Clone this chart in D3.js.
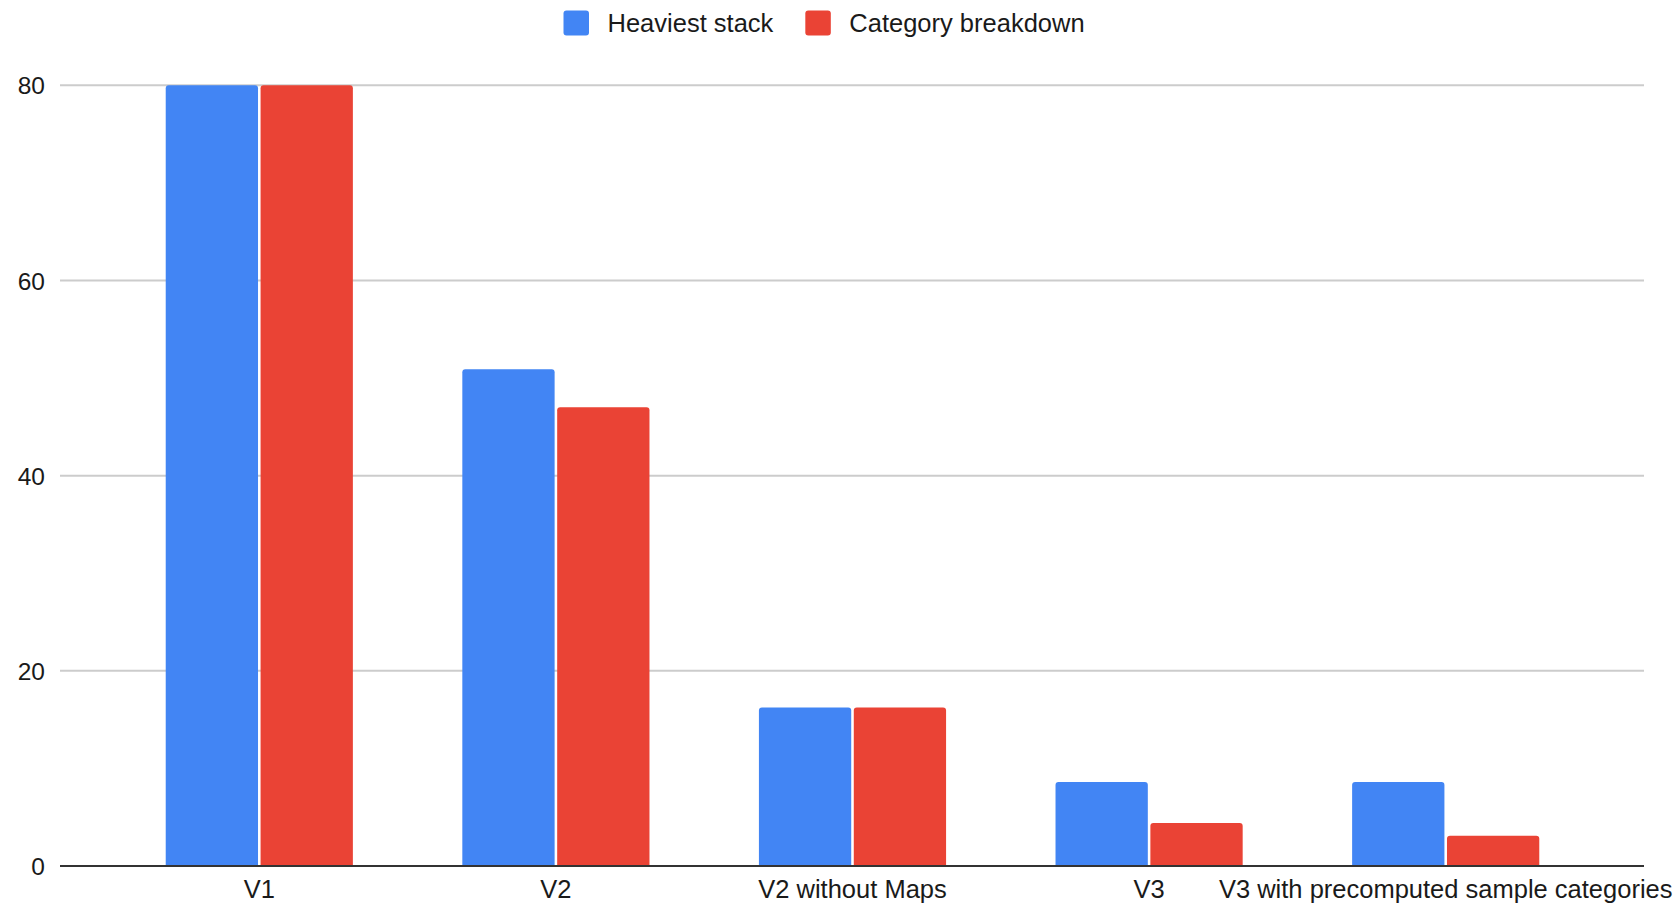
<!DOCTYPE html>
<html>
<head>
<meta charset="utf-8">
<script src="https://cdn.jsdelivr.net/npm/d3@7"></script>
<style>
  html, body { margin: 0; padding: 0; background: #fff; }
  svg { display: block; font-family: "Liberation Sans", Arial, sans-serif; }
</style>
</head>
<body>
<svg id="chart" width="1677" height="905"></svg>
<script>
const categories = ["V1", "V2", "V2 without Maps", "V3", "V3 with precomputed sample categories"];
const seriesNames = ["Heaviest stack", "Category breakdown"];
const heaviestStack = [80, 50.9, 16.25, 8.6, 8.6];
const categoryBreakdown = [80, 47.0, 16.25, 4.4, 3.1];
const yTicks = [0, 20, 40, 60, 80];
const colors = ["#4285F4", "#EA4335"];

const seriesValues = [heaviestStack, categoryBreakdown];
const rows = categories.map((c, i) => ({ cat: c, vals: seriesValues.map((s, k) => ({ key: seriesNames[k], k, v: s[i] })) }));

const svg = d3.select("#chart");
const plotLeft = 60, plotRight = 1644;
const y = d3.scaleLinear().domain([0, 80]).range([866, 85.3]);
const x0 = d3.scaleBand().domain(categories).range([111, 1594]).paddingInner(0.369).paddingOuter(0.1845);
const x1 = d3.scaleBand().domain(seriesNames).range([0, x0.bandwidth()]).paddingInner(0.027);

// gridlines
const grid = svg.append("g");
grid.selectAll("line").data(yTicks.filter(t => t !== 0)).join("line")
  .attr("x1", plotLeft).attr("x2", plotRight)
  .attr("y1", d => y(d)).attr("y2", d => y(d))
  .attr("stroke", "#cccccc").attr("stroke-width", 2);

// y axis labels
const yAxis = d3.axisLeft(y).tickValues(yTicks).tickSize(0).tickPadding(0);
const yg = svg.append("g").attr("transform", "translate(45,0)").call(yAxis);
yg.select(".domain").remove();
yg.selectAll("text").attr("font-size", 24.5).attr("fill", "#1a1a1a").attr("font-family", "Liberation Sans, Arial, sans-serif").attr("dy", "0.35em");

// bars with rounded top corners
function barPath(x, yTop, w, yBase, r) {
  const h = yBase - yTop;
  r = Math.min(r, h, w / 2);
  return `M${x},${yBase}V${yTop + r}Q${x},${yTop} ${x + r},${yTop}H${x + w - r}Q${x + w},${yTop} ${x + w},${yTop + r}V${yBase}Z`;
}
const groups = svg.append("g").selectAll("g").data(rows).join("g")
  .attr("transform", d => `translate(${x0(d.cat)},0)`);
groups.selectAll("path").data(d => d.vals).join("path")
  .attr("d", d => barPath(x1(d.key), y(d.v), x1.bandwidth(), y(0), 3))
  .attr("fill", d => colors[d.k]);

// baseline
svg.append("line").attr("x1", plotLeft).attr("x2", plotRight)
  .attr("y1", y(0)).attr("y2", y(0)).attr("stroke", "#333").attr("stroke-width", 2);

// x axis labels
const xAxis = d3.axisBottom(x0).tickSize(0).tickPadding(0);
const xg = svg.append("g").attr("transform", "translate(0,897.5)").call(xAxis);
xg.select(".domain").remove();
xg.selectAll("text").attr("font-size", 25.5).attr("fill", "#1a1a1a").attr("font-family", "Liberation Sans, Arial, sans-serif").attr("dy", 0);

// legend
const legend = svg.append("g");
let lx = 563.5;
seriesNames.forEach((name, k) => {
  legend.append("rect").attr("x", lx).attr("y", 10.5).attr("width", 25.5).attr("height", 25)
    .attr("rx", 3).attr("fill", colors[k]);
  const t = legend.append("text").attr("x", lx + 44).attr("y", 32)
    .attr("font-size", 25.5).attr("fill", "#1a1a1a").text(name);
  lx = lx + 44 + t.node().getComputedTextLength() + 32;
});
</script>
</body>
</html>
